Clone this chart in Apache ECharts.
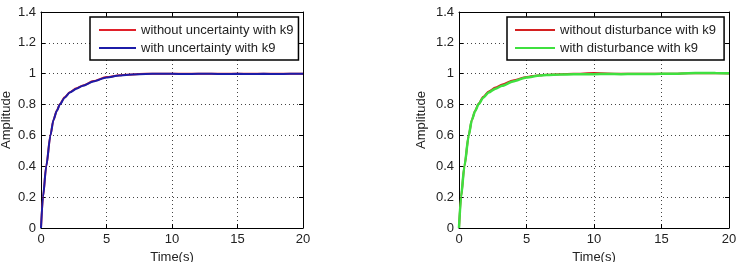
<!DOCTYPE html>
<html><head><meta charset="utf-8">
<script src="https://cdn.jsdelivr.net/npm/echarts@6/dist/echarts.min.js"></script>
<style>html,body{margin:0;padding:0;background:#fff}#c{width:745px;height:262px}</style>
</head><body><div id="c"></div>
<script>
var time = [0,0.15,0.4,0.72,0.95,1.2,1.45,1.8,2.2,2.7,3.2,4,5,6,6.5,7.5,8.5,10,11,12,13,14,15,16,17,18,19,20];
var noUncertainty = [0,0.2,0.4,0.6,0.7,0.76,0.804,0.847,0.88,0.905,0.924,0.952,0.978,0.99,0.993,0.998,1.0,1.0,1.0,1.0,1.0,1.0,1.0,1.0,1.0,1.0,1.0,1.0];
var withUncertainty = [0,0.2,0.4,0.6,0.7,0.758,0.802,0.845,0.878,0.903,0.922,0.95,0.976,0.989,0.992,0.997,0.999,0.999,0.998,0.999,0.999,0.998,0.999,0.998,0.999,0.998,0.999,0.999];
var noDisturbance = [0,0.2,0.4,0.6,0.7,0.762,0.806,0.85,0.884,0.91,0.93,0.956,0.979,0.99,0.993,0.997,0.999,1.004,1.002,0.999,0.999,1.0,1.0,1.0,1.003,1.004,1.003,1.002];
var withDisturbance = [0,0.2,0.4,0.6,0.7,0.758,0.802,0.845,0.878,0.903,0.922,0.95,0.976,0.988,0.991,0.995,0.996,0.997,0.998,0.997,0.998,0.998,0.999,1.0,1.003,1.005,1.004,1.003];
var xTicks = [0,5,10,15,20];
var yTicks = [0,0.2,0.4,0.6,0.8,1,1.2,1.4];
var legendLeft = ['without uncertainty with k9','with uncertainty with k9'];
var legendRight = ['without disturbance with k9','with disturbance with k9'];

function pairs(xs, ys){ return xs.map(function(x,i){return [x, ys[i]];}); }
var font = 'Liberation Sans, Arial, sans-serif';
var grids = [
  {left:41, top:12, width:262, height:216, containLabel:false, outerBoundsMode:'none'},
  {left:459, top:12, width:270, height:216, containLabel:false, outerBoundsMode:'none'}
];
function yfmt(v){ return String(+v.toFixed(1)); }
var xAxes = [], yAxes = [];
[0,1].forEach(function(g){
  xAxes.push({type:'value', gridIndex:g, min:xTicks[0], max:xTicks[xTicks.length-1], interval:xTicks[1]-xTicks[0], position:'bottom',
    name:'Time(s)', nameLocation:'middle', nameGap:19,
    nameTextStyle:{fontFamily:font, fontSize:13, color:'#222'},
    axisLine:{onZero:false, lineStyle:{color:'#000', width:1}},
    axisTick:{inside:true, length:4, lineStyle:{color:'#000'}},
    axisLabel:{fontFamily:font, fontSize:13, color:'#222', margin:5},
    splitLine:{show:true, lineStyle:{type:[1,3], color:'#444'}}
  });
  xAxes.push({type:'value', gridIndex:g, min:xTicks[0], max:xTicks[xTicks.length-1], interval:xTicks[1]-xTicks[0], position:'top',
    axisLine:{onZero:false, lineStyle:{color:'#000', width:1}},
    axisTick:{inside:true, length:4, lineStyle:{color:'#000'}},
    axisLabel:{show:false}, splitLine:{show:false}
  });
  yAxes.push({type:'value', gridIndex:g, min:yTicks[0], max:yTicks[yTicks.length-1], interval:0.2, position:'left',
    name:'Amplitude', nameLocation:'middle', nameGap: g===0?28:31,
    nameTextStyle:{fontFamily:font, fontSize:13, color:'#222'},
    axisLine:{show:true, onZero:false, lineStyle:{color:'#000', width:1}},
    axisTick:{show:true, inside:true, length:4, lineStyle:{color:'#000'}},
    axisLabel:{fontFamily:font, fontSize:13, color:'#222', margin:5, formatter:yfmt},
    splitLine:{show:true, lineStyle:{type:[1,3], color:'#444'}}
  });
  yAxes.push({type:'value', gridIndex:g, min:yTicks[0], max:yTicks[yTicks.length-1], interval:0.2, position:'right',
    axisLine:{show:true, onZero:false, lineStyle:{color:'#000', width:1}},
    axisTick:{show:true, inside:true, length:4, lineStyle:{color:'#000'}},
    axisLabel:{show:false}, splitLine:{show:false}
  });
});
function line(name, xi, yi, data, color, w){
  return {type:'line', name:name, xAxisIndex:xi, yAxisIndex:yi, data:data, showSymbol:false,
    symbol:'none', smooth:0.25, smoothMonotone:'x', lineStyle:{color:color, width:w}, itemStyle:{color:color}, animation:false, z:3};
}
var legendCommon = {orient:'vertical', itemHeight:2, itemGap:4, icon:'rect',
  borderColor:'#000', borderWidth:1.5, backgroundColor:'#fff',
  textStyle:{fontFamily:font, fontSize:13, lineHeight:14, color:'#222', padding:[0,0,0,0]}};
var option = {
  backgroundColor:'#fff',
  animation:false,
  grid:grids,
  xAxis:xAxes, yAxis:yAxes,
  legend:[
    Object.assign({}, legendCommon, {left:90, top:17, itemWidth:37, padding:[6,5,5,9], data:legendLeft}),
    Object.assign({}, legendCommon, {left:507, top:17, itemWidth:40, padding:[6,8,5,8], data:legendRight})
  ],
  series:[
    line(legendLeft[0],0,0,pairs(time,noUncertainty),'#e0202a',2),
    line(legendLeft[1],0,0,pairs(time,withUncertainty),'#1c1ca8',2),
    line(legendRight[0],2,2,pairs(time,noDisturbance),'#d42020',2),
    line(legendRight[1],2,2,pairs(time,withDisturbance),'#3fe03f',2.5)
  ]
};
var chart = echarts.init(document.getElementById('c'), null, {renderer:'canvas'});
chart.setOption(option);
</script></body></html>
